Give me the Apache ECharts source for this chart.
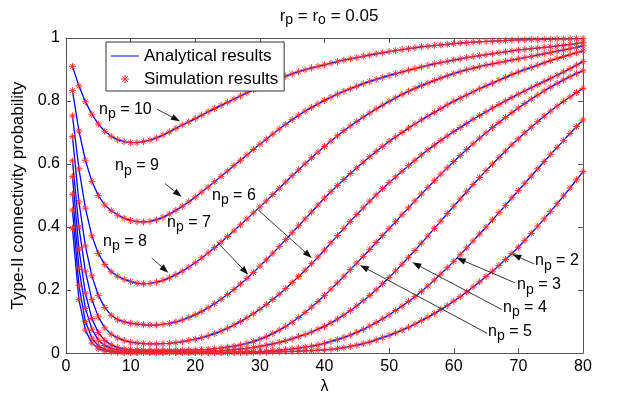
<!DOCTYPE html>
<html>
<head>
<meta charset="utf-8">
<script src="https://cdn.jsdelivr.net/npm/echarts@6/dist/echarts.min.js"></script>
<style>html,body{margin:0;padding:0;background:#fff}#c{width:618px;height:400px}</style>
</head>
<body>
<div id="c"></div>
<script>
// ---- data ----
const lambda = [1,2,3,4,5,6,7,8,9,10,11,12,13,14,15,16,17,18,19,20,21,22,23,24,25,26,27,28,29,30,31,32,33,34,35,36,37,38,39,40,41,42,43,44,45,46,47,48,49,50,51,52,53,54,55,56,57,58,59,60,61,62,63,64,65,66,67,68,69,70,71,72,73,74,75,76,77,78,79,80];

const np10 = [0.910,0.848,0.798,0.758,0.727,0.704,0.688,0.677,0.671,0.668,
0.668,0.671,0.676,0.683,0.692,0.702,0.713,0.724,0.734,0.744,
0.755,0.766,0.776,0.786,0.796,0.806,0.816,0.826,0.836,0.845,
0.854,0.863,0.871,0.879,0.886,0.893,0.899,0.905,0.910,0.915,
0.920,0.925,0.930,0.934,0.938,0.942,0.946,0.950,0.953,0.957,
0.960,0.963,0.966,0.969,0.972,0.974,0.976,0.978,0.980,0.982,
0.984,0.985,0.987,0.988,0.989,0.990,0.991,0.992,0.993,0.994,
0.994,0.995,0.995,0.996,0.996,0.997,0.997,0.997,0.998,0.998];

const np9 = [0.833,0.705,0.612,0.545,0.500,0.470,0.452,0.438,0.428,0.421,
0.417,0.416,0.418,0.423,0.431,0.441,0.453,0.466,0.480,0.495,
0.511,0.527,0.544,0.561,0.578,0.595,0.612,0.629,0.646,0.663,
0.679,0.695,0.711,0.726,0.741,0.755,0.768,0.780,0.791,0.802,
0.812,0.822,0.831,0.839,0.847,0.855,0.862,0.869,0.875,0.881,
0.887,0.892,0.898,0.903,0.908,0.913,0.918,0.922,0.926,0.930,
0.934,0.938,0.941,0.944,0.947,0.950,0.953,0.956,0.959,0.962,
0.964,0.966,0.968,0.970,0.972,0.975,0.977,0.980,0.982,0.985];

const np8 = [0.753,0.585,0.460,0.372,0.316,0.281,0.258,0.244,0.234,0.227,
0.222,0.220,0.221,0.225,0.231,0.239,0.249,0.260,0.273,0.287,
0.302,0.318,0.335,0.352,0.370,0.388,0.407,0.426,0.445,0.464,
0.483,0.503,0.523,0.543,0.563,0.582,0.601,0.620,0.638,0.656,
0.673,0.690,0.706,0.721,0.735,0.749,0.762,0.775,0.787,0.799,
0.810,0.821,0.831,0.840,0.849,0.857,0.865,0.873,0.880,0.887,
0.893,0.899,0.904,0.909,0.914,0.918,0.922,0.926,0.930,0.934,
0.938,0.942,0.946,0.950,0.954,0.958,0.962,0.966,0.970,0.975];

const np7 = [0.687,0.480,0.340,0.245,0.183,0.145,0.120,0.106,0.099,0.095,
0.092,0.090,0.089,0.089,0.091,0.094,0.099,0.105,0.113,0.122,
0.132,0.144,0.157,0.171,0.186,0.202,0.219,0.237,0.256,0.276,
0.296,0.317,0.338,0.360,0.382,0.404,0.426,0.448,0.470,0.492,
0.512,0.532,0.551,0.570,0.588,0.606,0.623,0.640,0.656,0.672,
0.686,0.700,0.714,0.727,0.740,0.752,0.764,0.776,0.788,0.799,
0.809,0.819,0.829,0.839,0.848,0.857,0.866,0.875,0.884,0.892,
0.900,0.907,0.914,0.921,0.928,0.935,0.941,0.947,0.953,0.959];

const np6 = [0.610,0.400,0.260,0.170,0.115,0.080,0.060,0.048,0.040,0.035,
0.032,0.030,0.029,0.029,0.030,0.031,0.033,0.036,0.040,0.044,
0.049,0.055,0.062,0.070,0.079,0.089,0.100,0.112,0.125,0.139,
0.154,0.170,0.187,0.205,0.224,0.243,0.263,0.284,0.305,0.327,
0.350,0.373,0.396,0.418,0.440,0.461,0.482,0.502,0.522,0.541,
0.559,0.577,0.595,0.612,0.629,0.645,0.660,0.675,0.689,0.703,
0.716,0.729,0.742,0.754,0.766,0.778,0.789,0.800,0.811,0.822,
0.832,0.842,0.852,0.862,0.872,0.882,0.892,0.903,0.914,0.925];

const np5 = [0.560,0.330,0.190,0.110,0.065,0.040,0.026,0.018,0.013,0.011,
0.010,0.009,0.009,0.009,0.009,0.009,0.009,0.009,0.010,0.010,
0.011,0.012,0.014,0.016,0.019,0.022,0.026,0.031,0.037,0.044,
0.052,0.062,0.073,0.085,0.098,0.113,0.129,0.146,0.164,0.183,
0.203,0.223,0.244,0.265,0.286,0.307,0.329,0.351,0.373,0.395,
0.417,0.439,0.461,0.483,0.505,0.526,0.547,0.568,0.588,0.608,
0.627,0.646,0.664,0.682,0.699,0.716,0.732,0.748,0.763,0.778,
0.792,0.806,0.819,0.832,0.844,0.856,0.867,0.877,0.887,0.896];

const np4 = [0.504,0.270,0.142,0.076,0.041,0.024,0.015,0.010,0.007,0.006,
0.005,0.004,0.004,0.004,0.004,0.004,0.004,0.004,0.005,0.005,
0.005,0.006,0.007,0.008,0.009,0.011,0.013,0.015,0.018,0.021,
0.025,0.029,0.034,0.039,0.045,0.052,0.059,0.067,0.076,0.085,
0.096,0.108,0.121,0.135,0.150,0.166,0.183,0.201,0.220,0.240,
0.261,0.282,0.304,0.326,0.349,0.372,0.396,0.419,0.443,0.466,
0.489,0.512,0.535,0.557,0.579,0.600,0.621,0.641,0.661,0.680,
0.699,0.717,0.735,0.752,0.768,0.784,0.799,0.813,0.827,0.840];

const np3 = [0.454,0.215,0.100,0.048,0.023,0.012,0.007,0.004,0.003,0.002,
0.002,0.002,0.002,0.002,0.002,0.002,0.002,0.002,0.002,0.002,
0.002,0.002,0.002,0.002,0.002,0.003,0.003,0.004,0.004,0.005,
0.006,0.008,0.009,0.011,0.013,0.016,0.019,0.022,0.026,0.031,
0.037,0.043,0.050,0.057,0.066,0.075,0.086,0.097,0.109,0.121,
0.135,0.149,0.164,0.179,0.196,0.213,0.232,0.251,0.271,0.291,
0.312,0.334,0.356,0.378,0.400,0.423,0.446,0.469,0.493,0.516,
0.539,0.562,0.585,0.608,0.631,0.653,0.675,0.697,0.719,0.740];

const np2 = [0.396,0.170,0.073,0.032,0.014,0.007,0.004,0.003,0.002,0.002,
0.002,0.002,0.002,0.002,0.002,0.002,0.002,0.002,0.002,0.002,
0.002,0.002,0.002,0.002,0.002,0.002,0.002,0.002,0.002,0.003,
0.003,0.004,0.004,0.005,0.005,0.006,0.007,0.008,0.009,0.010,
0.012,0.014,0.017,0.021,0.025,0.030,0.035,0.042,0.049,0.056,
0.064,0.073,0.082,0.092,0.103,0.114,0.126,0.138,0.151,0.165,
0.179,0.194,0.210,0.226,0.243,0.260,0.278,0.297,0.316,0.336,
0.358,0.380,0.403,0.426,0.450,0.474,0.499,0.524,0.550,0.576];

const curves = [np2, np3, np4, np5, np6, np7, np8, np9, np10];
const xTicks = [0,10,20,30,40,50,60,70,80];
const yTicks = [0,0.2,0.4,0.6,0.8,1];

// annotation placement (data coordinates): label anchor, arrow start, arrow tip
const annotations = [
  {np:'10', at:[5.11,0.774], from:[14.08,0.774], to:[17.64,0.736]},
  {np:'9',  at:[7.59,0.594], from:[15.32,0.538], to:[17.90,0.496]},
  {np:'8',  at:[5.73,0.355], from:[13.26,0.302], to:[15.83,0.255]},
  {np:'7',  at:[15.63,0.415], from:[23.32,0.354], to:[28.21,0.249]},
  {np:'6',  at:[22.59,0.500], from:[29.76,0.454], to:[38.02,0.302]},
  {np:'2',  at:[72.57,0.293], from:[72.42,0.283], to:[69.06,0.314]},
  {np:'3',  at:[69.79,0.217], from:[69.48,0.223], to:[60.46,0.302]},
  {np:'4',  at:[67.62,0.145], from:[67.47,0.138], to:[53.59,0.288]},
  {np:'5',  at:[65.30,0.069], from:[65.15,0.063], to:[45.49,0.279]}
];

// ---- chart ----
const FONT = 'Liberation Sans, Arial, Helvetica, sans-serif';
const AXC = '#555';
const STAR = 'path://M5,0L5,10M0,5L10,5M1.6,1.6L8.4,8.4M8.4,1.6L1.6,8.4';
const LINEICON = 'path://M0,0H40V1.4H0Z';

const chart = echarts.init(document.getElementById('c'), null, {renderer:'canvas'});

const series = [];
curves.forEach((vals) => {
  const pts = lambda.map((x, i) => [x, vals[i]]);
  series.push({
    name: 'Analytical results', type: 'line', data: pts, symbol: 'none', showSymbol: false,
    lineStyle: {color: '#0000ff', width: 1.3}, itemStyle: {color: '#0000ff'},
    z: 2, silent: true, animation: false
  });
  series.push({
    name: 'Simulation results', type: 'scatter', data: pts, symbol: STAR, symbolSize: 7,
    itemStyle: {color: 'rgba(0,0,0,0)', borderColor: '#ff2a2a', borderWidth: 0.95, opacity: 1},
    z: 3, silent: true, animation: false
  });
});

const tickFmt = v => (Math.abs(v) < 1e-9 ? '0' : Math.abs(v - 1) < 1e-9 ? '1' : (+v).toFixed(1));

const baseX = {
  type: 'value', min: xTicks[0], max: xTicks[xTicks.length - 1], interval: 10,
  axisLine: {show: true, onZero: false, lineStyle: {color: AXC, width: 1}},
  axisTick: {show: true, inside: true, length: 5, lineStyle: {color: AXC}},
  splitLine: {show: false}
};
const baseY = {
  type: 'value', min: yTicks[0], max: yTicks[yTicks.length - 1], interval: 0.2,
  axisLine: {show: true, onZero: false, lineStyle: {color: AXC, width: 1}},
  axisTick: {show: true, inside: true, length: 5, lineStyle: {color: AXC}},
  splitLine: {show: false}
};

chart.setOption({
  animation: false,
  backgroundColor: '#fff',
  textStyle: {fontFamily: FONT},
  title: {
    text: 'r{s|p} = r{s|o} = 0.05',
    left: 324, top: 0, textAlign: 'center',
    textStyle: {fontSize: 17, fontWeight: 'normal', color: '#000', fontFamily: FONT, lineHeight: 22,
      rich: {s: {fontSize: 14, color: '#000', fontFamily: FONT, lineHeight: 12, verticalAlign: 'bottom'}}}
  },
  grid: {left: 66, right: 35, top: 38, bottom: 44, containLabel: false},
  legend: {
    data: [
      {name: 'Analytical results', icon: LINEICON, itemStyle: {color: '#0000ff', borderWidth: 0}},
      {name: 'Simulation results', icon: STAR,
       itemStyle: {color: 'rgba(0,0,0,0)', borderColor: '#ff2a2a', borderWidth: 1}}
    ],
    orient: 'vertical', left: 106, top: 42,
    padding: [4, 6, 2, 5], itemGap: 3, itemWidth: 28, itemHeight: 8,
    backgroundColor: '#fff', borderColor: '#333', borderWidth: 1, borderRadius: 0,
    selectedMode: false,
    textStyle: {fontSize: 17, color: '#000', fontFamily: FONT, lineHeight: 20}
  },
  xAxis: [
    Object.assign({}, baseX, {
      position: 'bottom', name: 'λ', nameLocation: 'middle', nameGap: 20,
      nameTextStyle: {fontSize: 16, color: '#000', fontFamily: FONT},
      axisLabel: {show: true, color: '#000', fontSize: 16, fontFamily: FONT, margin: 5}
    }),
    Object.assign({}, baseX, {position: 'top', axisLabel: {show: false}})
  ],
  yAxis: [
    Object.assign({}, baseY, {
      position: 'left', name: 'Type-II connectivity probability', nameLocation: 'middle', nameGap: 36,
      nameTextStyle: {fontSize: 17, color: '#000', fontFamily: FONT},
      axisLabel: {show: true, color: '#000', fontSize: 16, fontFamily: FONT, margin: 6, formatter: tickFmt}
    }),
    Object.assign({}, baseY, {position: 'right', axisLabel: {show: false}})
  ],
  series: series
});

// ---- annotations (n_p = k with arrows), placed through the grid's scales ----
const graphics = [];
const rich = {
  n: {fontSize: 16, fontFamily: FONT, fill: '#000', color: '#000', lineHeight: 24, verticalAlign: 'middle'},
  s: {fontSize: 14, fontFamily: FONT, fill: '#000', color: '#000', lineHeight: 12, verticalAlign: 'bottom'}
};
annotations.forEach(a => {
  const p = chart.convertToPixel({gridIndex: 0}, a.at);
  const p0 = chart.convertToPixel({gridIndex: 0}, a.from);
  const p1 = chart.convertToPixel({gridIndex: 0}, a.to);
  graphics.push({
    type: 'text', x: p[0], y: p[1], z: 20, silent: true,
    style: {text: '{n|n}{s|p}{n| = ' + a.np + '}', rich: rich, align: 'left', verticalAlign: 'middle', fill: '#000'}
  });
  const dx = p1[0] - p0[0], dy = p1[1] - p0[1];
  const L = Math.hypot(dx, dy), ux = dx / L, uy = dy / L;
  const hl = 9, hw = 3.2;
  const bx = p1[0] - ux * hl, by = p1[1] - uy * hl;
  graphics.push({
    type: 'line', z: 20, silent: true,
    shape: {x1: p0[0], y1: p0[1], x2: bx, y2: by},
    style: {stroke: '#222', lineWidth: 0.9}
  });
  graphics.push({
    type: 'polygon', z: 20, silent: true,
    shape: {points: [[p1[0], p1[1]], [bx - uy * hw, by + ux * hw], [bx + uy * hw, by - ux * hw]]},
    style: {fill: '#111'}
  });
});
chart.setOption({graphic: graphics});
</script>
</body>
</html>
